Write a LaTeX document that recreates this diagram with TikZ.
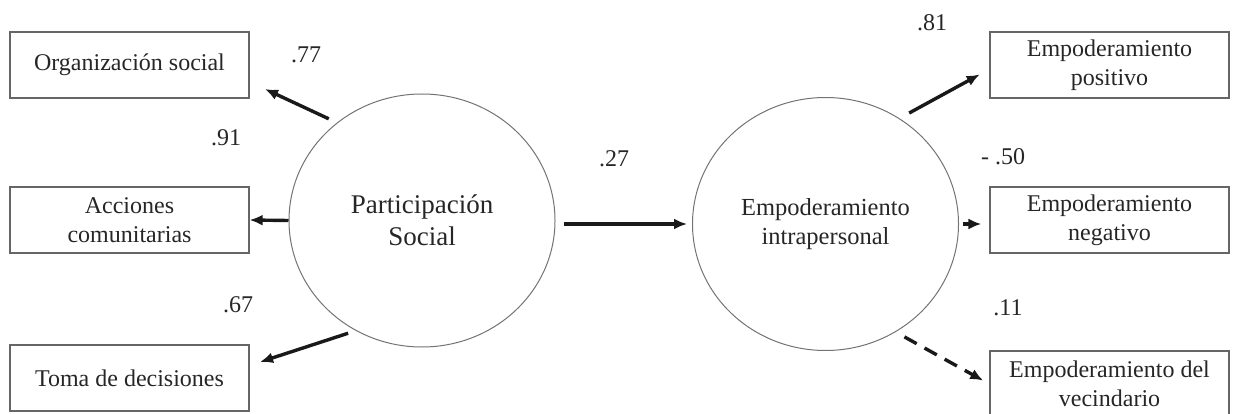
\documentclass[tikz,border=0pt]{standalone}
\usepackage{fontspec}
\setmainfont{Liberation Serif}
\usetikzlibrary{arrows.meta,shapes.geometric}

\begin{document}
\begin{tikzpicture}[x=1pt, y=-1pt, >={Latex[length=13pt,width=11pt]}, align=center,
    font=\fontsize{24}{29}\selectfont, text=black!85]

    \tikzstyle{box}=[draw=black!60, line width=1.2pt, minimum width=239pt, minimum height=66pt, inner sep=0pt]
    \tikzstyle{latent}=[ellipse, draw=black!55, line width=1pt, minimum width=266pt, minimum height=253pt, inner sep=0pt]
    \tikzstyle{loading}=[->, line width=3.4pt, draw=black!90]

    \useasboundingbox (0,0) rectangle (1236,414);

    \node[box] (org) at (129.5,65) {Organización social};
    \node[box] (acc) at (129.5,220) {Acciones\\comunitarias};
    \node[box] (toma) at (129.5,378) {Toma de decisiones};

    \node[latent, font=\fontsize{27}{32}\selectfont] (ps) at (422,220.5) {Participación\\Social};
    \node[latent, font=\fontsize{24.5}{29}\selectfont] (ei) at (825.5,224) {Empoderamiento\\intrapersonal};

    \node[box] (pos) at (1109.5,65) {Empoderamiento\\positivo};
    \node[box] (neg) at (1109.5,220) {Empoderamiento\\negativo};
    \node[box] (vec) at (1109.5,384) {Empoderamiento del\\vecindario};

    % loadings
    \node (l77) at (306,55) {.77};
    \node (l91) at (226,138) {.91};
    \node (l67) at (238,305) {.67};
    \node (l27) at (614,159) {.27};
    \node (l81) at (932,23) {.81};
    \node (l50) at (1003,157) {- .50};
    \node (l11) at (1008,308) {.11};

    \draw[loading, shorten <=9pt, shorten >=17pt] (ps.131) -- (org.-8);
    \draw[loading] (ps.west) -- (acc.east);
    \draw[loading, shorten <=8pt, shorten >=11pt] (ps.239) -- (toma.6);
    \draw[loading, shorten <=8pt, shorten >=5pt] (ps.east |- ei.center) -- (ei.west);
    \draw[loading, shorten <=11pt, shorten >=11pt] (ei.55) -- (pos.182);
    \draw[loading, shorten <=4pt, shorten >=8pt] (ei.east) -- (ei.east -| neg.west);
    \draw[loading, dash pattern=on 14pt off 9pt, shorten <=10pt, shorten >=7pt] (ei.-57) -- (vec.west);
\end{tikzpicture}
\end{document}
